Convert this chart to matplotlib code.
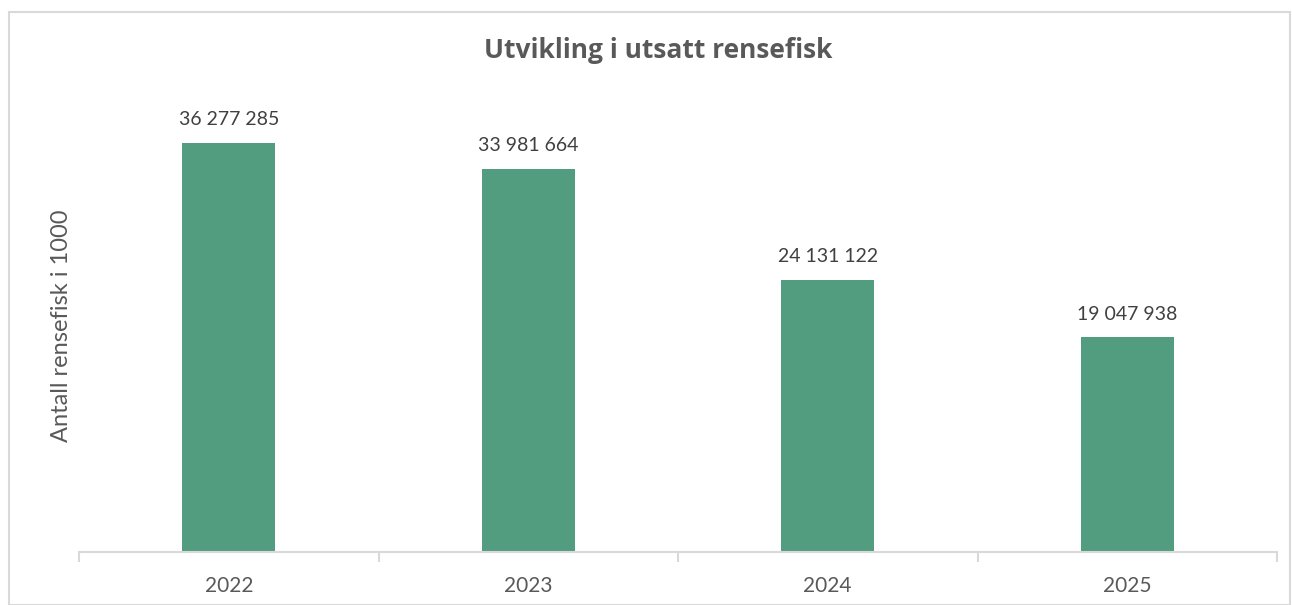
import matplotlib
matplotlib.use("Agg")
import matplotlib.pyplot as plt
from matplotlib.patches import Rectangle

# data
years = ["2022", "2023", "2024", "2025"]
values = [36277285, 33981664, 24131122, 19047938]
labels = ["36 277 285", "33 981 664", "24 131 122", "19 047 938"]

plt.rcParams['font.family'] = ['Lato', 'DejaVu Sans']

fig = plt.figure(figsize=(12.92, 6.05), dpi=100)
# chart border
fig.patches.append(Rectangle((9/1292, 0), 1281/1292, 1 - 12/605, transform=fig.transFigure,
                             fill=False, edgecolor='#D9D9D9', linewidth=1.5))

ax = fig.add_axes([79/1292, 1 - 552/605, (1277 - 79)/1292, (552 - 101)/605])
x = range(len(years))
ax.bar(x, values, width=0.31, color='#529C80')
for i, v in enumerate(values):
    ax.text(i, v + 1.3e6, labels[i], ha='center', va='bottom', fontsize=14, color='#404040')

ax.set_xlim(-0.5, 3.5)
ax.set_ylim(0, 40e6)
ax.set_yticks([])
for s in ['top', 'right', 'left']:
    ax.spines[s].set_visible(False)
ax.spines['bottom'].set_color('#D9D9D9')
ax.spines['bottom'].set_linewidth(1.5)

ax.set_xticks([i + 0.5 for i in range(-1, 4)], minor=False)
ax.set_xticklabels([])
ax.tick_params(axis='x', which='major', length=7, color='#D9D9D9', width=1.5)
ax.set_xticks(list(x), minor=True)
ax.set_xticklabels(years, minor=True)
ax.tick_params(axis='x', which='minor', length=0, pad=17, labelsize=15, labelcolor='#595959')

fig.text(62/1292, 1 - 326/605, "Antall rensefisk i 1000", rotation=90, ha='center', va='center',
         fontsize=17, color='#595959')
fig.text(658/1292, 1 - 50/605, "Utvikling i utsatt rensefisk", ha='center', va='center',
         fontsize=19, fontweight='bold', color='#595959', family=['Open Sans', 'DejaVu Sans'])

fig.savefig("out.png", dpi=100)
